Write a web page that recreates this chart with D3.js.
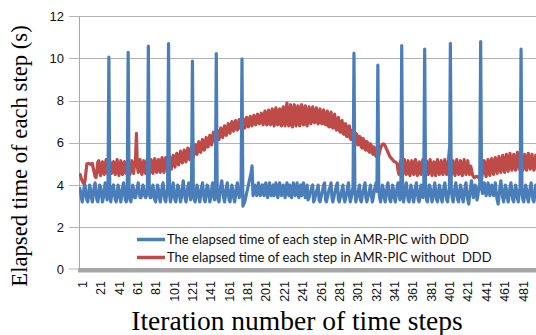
<!DOCTYPE html>
<html>
<head>
<meta charset="utf-8">
<script src="https://cdn.jsdelivr.net/npm/d3@7"></script>
<style>
  body { margin: 0; background: #fff; }
  svg { display: block; }
</style>
</head>
<body>
<div id="chart"></div>
<script>
// elapsed time per step (s), one value per iteration 1..500
const withDDD = [
  3.9,3.7,3.4,3.2,3.5,3.9,4.0,3.6,3.3,3.2,3.6,4.0,3.8,3.4,3.2,3.5,3.9,4.1,3.7,3.3,
  3.2,3.6,4.0,3.9,3.5,3.2,3.4,3.8,4.1,3.7,3.3,3.5,10.05,3.6,3.2,3.5,3.9,4.0,3.6,3.3,
  3.2,3.6,4.0,3.8,3.4,3.2,3.5,3.9,4.1,3.7,3.3,3.2,3.7,10.28,3.8,3.3,3.2,3.6,4.0,3.8,
  3.4,3.4,3.6,3.9,4.1,3.7,3.4,3.4,3.6,4.0,3.9,3.5,3.4,3.5,3.8,10.58,3.7,3.4,3.4,3.8,
  4.0,3.6,3.3,3.2,3.6,4.0,3.8,3.4,3.2,3.5,3.9,4.1,3.7,3.3,3.2,3.6,3.9,10.69,3.6,3.2,
  3.4,3.8,4.1,3.7,3.3,3.2,3.6,4.0,3.9,3.5,3.2,3.4,3.8,4.2,3.8,3.4,3.2,3.5,3.9,4.1,
  3.7,3.3,3.6,9.87,3.8,3.3,3.2,3.6,4.0,3.8,3.4,3.2,3.5,3.9,4.1,3.7,3.3,3.2,3.6,4.0,
  3.9,3.5,3.2,3.4,3.8,4.1,3.7,3.3,3.5,10.22,3.7,3.3,3.2,3.6,4.0,4.2,3.8,3.4,3.2,3.5,
  3.9,4.1,3.7,3.3,3.2,3.6,4.0,3.8,3.4,3.2,3.5,3.9,4.1,3.7,3.4,3.5,3.8,9.97,3.0,3.1,
  3.2,3.4,3.6,3.8,4.0,4.2,4.4,4.6,4.9,3.5,3.7,4.0,3.8,3.5,3.9,4.1,3.6,3.5,3.9,4.0,
  3.6,3.5,4.0,4.1,3.6,3.4,3.8,4.1,3.7,3.5,3.9,4.0,3.5,3.6,4.1,3.8,3.4,3.7,4.1,3.9,
  3.5,3.6,4.0,3.7,3.4,3.9,4.1,3.6,3.5,4.0,3.9,3.4,3.7,4.1,3.8,3.5,3.8,4.1,3.6,3.4,
  3.9,4.0,3.5,3.6,4.1,3.7,3.4,3.8,4.0,3.3,3.4,3.6,3.7,3.9,4.0,3.2,3.3,3.5,3.7,3.8,
  4.0,3.3,3.2,3.4,3.6,3.8,4.0,4.1,3.3,3.2,3.4,3.6,3.8,3.9,4.1,3.4,3.2,3.4,3.6,3.8,
  4.0,4.1,3.3,3.2,3.4,3.6,3.8,4.0,3.4,3.2,3.4,3.6,3.9,4.1,3.5,3.2,3.4,3.7,3.9,10.24,
  3.6,3.2,3.4,3.6,3.8,4.0,3.3,3.2,3.5,3.7,3.9,4.1,3.4,3.2,3.4,3.6,3.8,4.0,3.5,3.2,
  3.4,3.7,3.9,4.1,3.7,9.68,3.8,3.4,3.2,3.6,4.0,3.8,3.4,3.2,3.5,3.9,4.1,3.7,3.3,3.2,
  3.6,4.0,3.8,3.4,3.2,3.5,3.9,4.1,3.7,3.3,3.5,10.6,3.6,3.2,3.5,3.9,4.1,3.7,3.3,3.2,
  3.6,4.0,3.8,3.4,3.2,3.5,3.9,4.1,3.7,3.3,3.2,3.6,4.0,3.8,3.4,3.7,10.43,3.7,3.3,3.2,
  3.6,4.0,3.9,3.5,3.2,3.4,3.8,4.1,3.7,3.3,3.2,3.6,4.0,3.8,3.4,3.2,3.5,3.9,4.1,3.7,
  3.3,3.2,3.6,3.9,10.71,3.8,3.4,3.2,3.5,3.9,4.1,3.7,3.3,3.2,3.6,4.0,3.8,3.4,3.2,3.5,
  3.9,4.1,3.7,3.3,3.1,3.5,3.9,4.2,3.8,3.4,3.6,4.0,3.7,3.3,3.5,3.9,4.0,10.79,3.8,3.6,
  3.9,4.1,3.7,3.5,3.8,4.1,3.9,3.5,3.7,4.0,3.8,3.5,3.9,4.1,3.6,3.3,3.1,3.5,3.9,4.2,
  3.8,3.4,3.2,3.6,4.0,3.8,3.4,3.2,3.5,3.9,4.1,3.7,3.3,3.2,3.6,4.0,3.8,3.4,3.2,3.6,
  3.9,10.43,3.7,3.3,3.2,3.6,4.0,3.8,3.4,3.2,3.5,3.9,4.1,3.7,3.3,3.2,3.6,4.0,3.8,3.4
];

const withoutDDD = [
  4.55,4.45,4.3,4.2,4.1,4.05,4.2,4.6,5.0,5.0,5.02,5.0,4.98,5.0,5.02,4.8,4.6,4.4,4.35,4.7,
  5.1,5.15,4.6,4.45,4.9,5.1,4.7,4.5,4.95,5.2,4.75,4.5,4.85,5.15,4.6,4.55,5.0,5.1,4.65,4.5,
  4.95,5.2,4.7,4.45,4.9,5.15,4.65,4.5,5.0,5.1,4.6,4.55,5.05,5.2,4.7,4.5,4.9,5.15,4.75,4.55,
  5.0,5.2,6.45,4.9,4.6,5.0,5.2,4.7,4.5,4.95,5.15,4.65,4.55,5.0,5.25,4.75,4.5,4.9,5.2,4.7,
  4.55,5.0,5.25,4.75,4.6,5.05,5.2,4.7,4.6,5.1,5.3,4.8,4.6,5.05,5.3,4.85,4.65,5.1,5.35,4.9,
  4.75,5.2,5.4,4.95,4.85,5.3,5.5,5.05,4.95,5.35,5.6,5.15,5.05,5.45,5.65,5.2,5.1,5.5,5.75,5.3,
  5.2,5.6,5.8,5.35,5.3,5.7,5.9,5.5,5.45,5.85,6.05,5.6,5.55,5.95,6.15,5.7,5.65,6.0,6.25,5.8,
  5.8,6.15,6.35,5.95,5.9,6.3,6.5,6.1,6.05,6.4,6.6,6.2,6.15,6.5,6.7,6.3,6.25,6.6,6.8,6.4,
  6.35,6.7,6.9,6.5,6.45,6.8,7.0,6.6,6.55,6.9,7.05,6.65,6.6,6.95,7.1,6.7,6.65,7.0,7.15,6.75,
  6.7,7.05,7.2,6.8,6.75,7.1,7.25,6.85,6.8,7.15,7.3,6.9,6.85,7.2,7.35,6.95,6.9,7.25,7.4,7.0,
  6.85,7.3,7.5,6.95,6.85,7.35,7.55,6.9,6.85,7.4,7.6,6.95,6.8,7.45,7.65,6.9,6.85,7.5,7.6,6.9,
  6.8,7.5,7.7,6.9,6.8,7.55,7.88,6.95,6.8,7.5,7.8,6.9,6.75,7.55,7.8,6.95,6.8,7.6,7.75,6.9,
  6.8,7.55,7.8,6.95,6.85,7.6,7.75,6.9,6.8,7.5,7.7,6.95,6.9,7.55,7.7,7.0,6.95,7.5,7.65,7.0,
  6.9,7.45,7.6,6.95,6.9,7.4,7.55,6.9,6.85,7.35,7.5,6.8,6.75,7.3,7.45,6.75,6.7,7.2,7.35,6.7,
  6.6,7.1,7.2,6.6,6.5,7.0,7.05,6.45,6.4,6.9,6.9,6.3,6.3,6.75,6.8,6.2,6.15,6.6,6.6,6.05,
  6.0,6.45,6.4,5.9,5.9,6.3,6.25,5.8,5.75,6.2,6.1,5.7,5.65,6.05,6.0,5.6,5.55,5.95,5.85,5.5,
  5.45,5.8,5.6,5.35,5.5,5.2,5.4,5.6,5.75,5.85,5.92,5.95,5.92,5.85,5.75,5.65,5.55,5.45,5.35,5.3,
  5.25,5.2,5.15,5.1,5.1,5.05,5.0,4.7,4.5,4.95,5.15,4.65,4.45,4.9,5.2,4.7,4.5,4.95,5.15,4.6,
  4.45,4.9,5.15,4.7,4.5,5.0,5.2,4.65,4.45,4.85,5.1,4.6,4.5,4.95,5.2,4.7,4.45,4.9,5.15,4.65,
  4.5,5.0,5.2,4.7,4.45,4.9,5.1,4.6,4.45,4.95,5.2,4.75,4.5,4.85,5.15,4.65,4.5,5.0,5.2,4.7,
  4.5,4.95,5.2,5.72,4.7,4.5,4.9,5.15,4.65,4.45,4.95,5.2,4.7,4.5,4.9,5.15,4.6,4.45,4.95,5.2,
  4.7,4.5,4.9,5.15,4.65,4.5,4.9,4.75,4.5,4.4,4.35,4.38,4.4,4.4,4.38,4.35,4.3,4.25,4.3,4.6,
  4.9,5.15,4.6,4.4,4.95,5.2,4.65,4.45,5.0,5.25,4.7,4.5,5.05,5.3,4.75,4.55,5.1,5.35,4.8,4.6,
  5.1,5.4,4.85,4.6,5.15,5.45,4.9,4.65,5.2,5.5,4.95,4.7,5.15,5.45,4.9,4.7,5.2,5.55,5.0,4.75,
  5.2,5.5,4.95,4.7,5.15,5.45,4.9,4.7,5.2,5.5,4.95,4.75,5.2,5.45,4.9,4.7,5.15,5.4,4.9,4.7
];

const yTicks = [0, 2, 4, 6, 8, 10, 12];
const xTickLabels = [1, 21, 41, 61, 81, 101, 121, 141, 161, 181, 201, 221, 241, 261, 281,
  301, 321, 341, 361, 381, 401, 421, 441, 461, 481];
const seriesNames = [
  'The elapsed time of each step in AMR-PIC with DDD',
  'The elapsed time of each step in AMR-PIC without  DDD'
];
const seriesColors = ['#4a7ebb', '#be4b48'];

const width = 536, height = 335;
const plot = { left: 79, right: 536, top: 16, bottom: 269.5 };

const svg = d3.select('#chart').append('svg')
  .attr('width', width)
  .attr('height', height);

svg.append('rect').attr('width', width).attr('height', height).attr('fill', '#fff');

const x = d3.scaleLinear()
  .domain([1, withDDD.length])
  .range([79.5, 79.5 + (withDDD.length - 1) * 0.918]);

const y = d3.scaleLinear()
  .domain([0, 12])
  .range([plot.bottom, plot.top]);

// gridlines + outside ticks
svg.append('g')
  .selectAll('line')
  .data(yTicks.filter(d => d > 0))
  .enter()
  .append('line')
  .attr('x1', 69)
  .attr('x2', plot.right)
  .attr('y1', d => Math.round(y(d)) + 0.5)
  .attr('y2', d => Math.round(y(d)) + 0.5)
  .attr('stroke', '#b4b4b4')
  .attr('stroke-width', 1);

// y axis line
svg.append('line')
  .attr('x1', 79.5).attr('x2', 79.5)
  .attr('y1', plot.top).attr('y2', plot.bottom)
  .attr('stroke', '#a8a8a8');

svg.append('line')
  .attr('x1', 69).attr('x2', 79)
  .attr('y1', plot.bottom - 0.5).attr('y2', plot.bottom - 0.5)
  .attr('stroke', '#b4b4b4');

// y tick labels
svg.append('g')
  .selectAll('text')
  .data(yTicks)
  .enter()
  .append('text')
  .attr('x', 64)
  .attr('y', d => y(d))
  .attr('dy', '0.36em')
  .attr('text-anchor', 'end')
  .attr('font-family', 'Liberation Sans, Arial, sans-serif')
  .attr('font-size', 13)
  .attr('fill', '#111')
  .text(d => d);

// grey floor band along the category axis
svg.append('rect')
  .attr('x', 78)
  .attr('y', 268)
  .attr('width', plot.right - 78)
  .attr('height', 4.5)
  .attr('fill', '#a6a6a6');

// x tick labels, rotated
svg.append('g')
  .selectAll('text')
  .data(xTickLabels)
  .enter()
  .append('text')
  .attr('transform', d => `translate(${x(d) + 3}, 281) rotate(-90)`)
  .attr('text-anchor', 'end')
  .attr('dy', '0.35em')
  .attr('font-family', 'Liberation Sans, Arial, sans-serif')
  .attr('font-size', 12.5)
  .attr('fill', '#111')
  .text(d => d);

// lines
svg.append('clipPath').attr('id', 'clip')
  .append('rect')
  .attr('x', plot.left).attr('y', 0)
  .attr('width', plot.right - plot.left).attr('height', plot.bottom);

const line = d3.line()
  .x((d, i) => x(i + 1))
  .y(d => y(d));

const lines = svg.append('g').attr('clip-path', 'url(#clip)');

lines.append('path')
  .datum(withoutDDD)
  .attr('d', line)
  .attr('fill', 'none')
  .attr('stroke', seriesColors[1])
  .attr('stroke-width', 3.2)
  .attr('stroke-linejoin', 'round');

lines.append('path')
  .datum(withDDD)
  .attr('d', line)
  .attr('fill', 'none')
  .attr('stroke', seriesColors[0])
  .attr('stroke-width', 3.2)
  .attr('stroke-linejoin', 'round');

// legend
const legend = svg.append('g');
seriesNames.forEach((name, i) => {
  const ly = 239.5 + i * 18;
  legend.append('line')
    .attr('x1', 137).attr('x2', 165)
    .attr('y1', ly).attr('y2', ly)
    .attr('stroke', seriesColors[i])
    .attr('stroke-width', 3.5);
  legend.append('text')
    .attr('x', 167)
    .attr('y', ly)
    .attr('dy', '0.36em')
    .attr('font-family', 'Lato, sans-serif')
    .attr('font-size', 13)
    .attr('fill', '#111')
    .attr('xml:space', 'preserve')
    .style('white-space', 'pre')
    .text(name);
});

// axis titles
svg.append('text')
  .attr('transform', 'translate(27, 156) rotate(-90)')
  .attr('text-anchor', 'middle')
  .attr('font-family', 'Liberation Serif, Times New Roman, serif')
  .attr('font-size', 22.7)
  .attr('fill', '#000')
  .text('Elapsed time of each step (s)');

svg.append('text')
  .attr('x', 297)
  .attr('y', 330)
  .attr('text-anchor', 'middle')
  .attr('font-family', 'Liberation Serif, Times New Roman, serif')
  .attr('font-size', 27.5)
  .attr('fill', '#000')
  .text('Iteration number of time steps');
</script>
</body>
</html>
